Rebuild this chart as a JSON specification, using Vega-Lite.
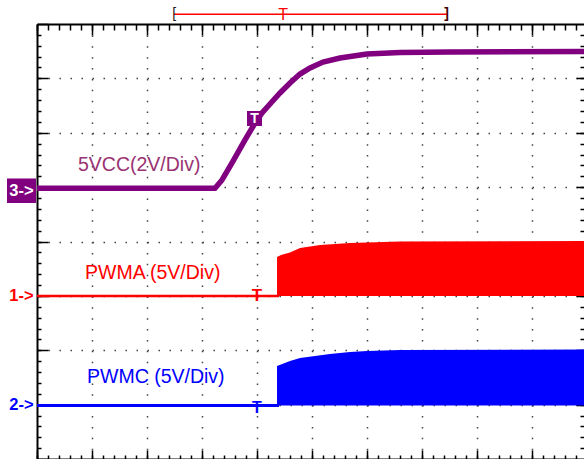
{
  "$schema": "https://vega.github.io/schema/vega-lite/v6.json",
  "width": 547,
  "height": 435,
  "autosize": {"type": "none"},
  "padding": {"left": 37, "top": 24, "right": 0, "bottom": 0},
  "background": "white",
  "config": {
    "view": {"stroke": null},
    "axis": {"title": null, "labels": false, "grid": false, "domainColor": "#000", "tickColor": "#000", "domainWidth": 2, "tickWidth": 1.5},
    "text": {"font": "Liberation Sans"}
  },
  "datasets": {
    "ch3": [
      {"t": 0, "div": 4.98}, {"t": 3.236, "div": 4.98}, {"t": 3.364, "div": 5.131}, {"t": 3.564, "div": 5.48},
      {"t": 3.782, "div": 5.867}, {"t": 3.964, "div": 6.179}, {"t": 4.091, "div": 6.363}, {"t": 4.236, "div": 6.529},
      {"t": 4.418, "div": 6.731}, {"t": 4.6, "div": 6.915}, {"t": 4.782, "div": 7.08}, {"t": 4.964, "div": 7.191},
      {"t": 5.2, "div": 7.301}, {"t": 5.509, "div": 7.375}, {"t": 6.0, "div": 7.448}, {"t": 6.6, "div": 7.476},
      {"t": 7.509, "div": 7.485}, {"t": 10, "div": 7.494}
    ],
    "ch1base": [{"t": 0, "div": 3.0}, {"t": 4.4, "div": 3.0}],
    "ch1env": [
      {"t": 4.364, "div": 3.715}, {"t": 4.436, "div": 3.752}, {"t": 4.6, "div": 3.798}, {"t": 4.782, "div": 3.88},
      {"t": 5.145, "div": 3.936}, {"t": 5.691, "div": 3.972}, {"t": 6.6, "div": 4.0}, {"t": 10, "div": 4.009}
    ],
    "ch2base": [{"t": 0, "div": 0.985}, {"t": 4.4, "div": 0.985}],
    "ch2env": [
      {"t": 4.364, "div": 1.71}, {"t": 4.6, "div": 1.802}, {"t": 4.782, "div": 1.857}, {"t": 5.327, "div": 1.931},
      {"t": 5.691, "div": 1.968}, {"t": 6.0, "div": 1.986}, {"t": 6.6, "div": 2.005}, {"t": 10, "div": 2.014}
    ],
    "one": [{}]
  },
  "resolve": {"axis": {"x": "independent", "y": "independent"}},
  "layer": [
    {
      "data": {"name": "ch2base"},
      "mark": {"type": "line", "color": "#0000FF", "strokeWidth": 3, "clip": true},
      "encoding": {
        "x": {"field": "t", "type": "quantitative", "scale": {"domain": [0, 9.945], "nice": false, "zero": false},
              "axis": {"orient": "bottom", "values": [1, 2, 3, 4, 5, 6, 7, 8, 9], "grid": true, "gridDash": [1.5, 9.375], "gridColor": "#444", "gridWidth": 1.5, "ticks": false, "domain": false}},
        "y": {"field": "div", "type": "quantitative", "scale": {"domain": [0, 8], "nice": false, "zero": false},
              "axis": {"orient": "left", "values": [1, 2, 3, 4, 5, 6, 7], "grid": true, "gridDash": [1.5, 9.5], "gridColor": "#444", "gridWidth": 1.5, "ticks": false, "domain": false}}
      }
    },
    {
      "data": {"name": "ch1base"},
      "mark": {"type": "line", "color": "#FF0000", "strokeWidth": 2.5, "clip": true},
      "encoding": {
        "x": {"field": "t", "type": "quantitative", "scale": {"domain": [0, 9.945], "nice": false, "zero": false},
              "axis": {"orient": "top", "values": [0, 0.2, 0.4, 0.6, 0.8, 1, 1.2, 1.4, 1.6, 1.8, 2, 2.2, 2.4, 2.6, 2.8, 3, 3.2, 3.4, 3.6, 3.8, 4, 4.2, 4.4, 4.6, 4.8, 5, 5.2, 5.4, 5.6, 5.8, 6, 6.2, 6.4, 6.6, 6.8, 7, 7.2, 7.4, 7.6, 7.8, 8, 8.2, 8.4, 8.6, 8.8, 9, 9.2, 9.4, 9.6, 9.8], "tickSize": -6, "domain": false}},
        "y": {"field": "div", "type": "quantitative", "scale": {"domain": [0, 8], "nice": false, "zero": false},
              "axis": {"orient": "right", "values": [0.2, 0.4, 0.6, 0.8, 1, 1.2, 1.4, 1.6, 1.8, 2, 2.2, 2.4, 2.6, 2.8, 3, 3.2, 3.4, 3.6, 3.8, 4, 4.2, 4.4, 4.6, 4.8, 5, 5.2, 5.4, 5.6, 5.8, 6, 6.2, 6.4, 6.6, 6.8, 7, 7.2, 7.4, 7.6, 7.8], "tickSize": -4, "domain": false}}
      }
    },
    {
      "data": {"name": "ch1env"},
      "mark": {"type": "area", "color": "#FF0000", "opacity": 1, "clip": true},
      "encoding": {
        "x": {"field": "t", "type": "quantitative", "scale": {"domain": [0, 9.945], "nice": false, "zero": false},
              "axis": {"orient": "top", "values": [0, 1, 2, 3, 4, 5, 6, 7, 8, 9, 10], "tickSize": -11, "domain": true}},
        "y": {"field": "div", "type": "quantitative", "scale": {"domain": [0, 8], "nice": false, "zero": false},
              "axis": {"orient": "right", "values": [1, 2, 3, 4, 5, 6, 7], "tickSize": -8, "domain": false}},
        "y2": {"datum": 3.0}
      }
    },
    {
      "data": {"name": "ch2env"},
      "mark": {"type": "area", "color": "#0000FF", "opacity": 1, "clip": true},
      "encoding": {
        "x": {"field": "t", "type": "quantitative", "scale": {"domain": [0, 9.945], "nice": false, "zero": false},
              "axis": {"orient": "bottom", "values": [0, 0.2, 0.4, 0.6, 0.8, 1, 1.2, 1.4, 1.6, 1.8, 2, 2.2, 2.4, 2.6, 2.8, 3, 3.2, 3.4, 3.6, 3.8, 4, 4.2, 4.4, 4.6, 4.8, 5, 5.2, 5.4, 5.6, 5.8, 6, 6.2, 6.4, 6.6, 6.8, 7, 7.2, 7.4, 7.6, 7.8, 8, 8.2, 8.4, 8.6, 8.8, 9, 9.2, 9.4, 9.6, 9.8], "tickSize": -4, "domain": false}},
        "y": {"field": "div", "type": "quantitative", "scale": {"domain": [0, 8], "nice": false, "zero": false},
              "axis": {"orient": "left", "values": [0.2, 0.4, 0.6, 0.8, 1, 1.2, 1.4, 1.6, 1.8, 2, 2.2, 2.4, 2.6, 2.8, 3, 3.2, 3.4, 3.6, 3.8, 4, 4.2, 4.4, 4.6, 4.8, 5, 5.2, 5.4, 5.6, 5.8, 6, 6.2, 6.4, 6.6, 6.8, 7, 7.2, 7.4, 7.6, 7.8], "tickSize": -4, "domain": false}},
        "y2": {"datum": 0.985}
      }
    },
    {
      "data": {"name": "ch3"},
      "mark": {"type": "line", "color": "#800080", "strokeWidth": 5.5, "clip": true},
      "encoding": {
        "x": {"field": "t", "type": "quantitative", "scale": {"domain": [0, 9.945], "nice": false, "zero": false},
              "axis": {"orient": "bottom", "values": [0, 1, 2, 3, 4, 5, 6, 7, 8, 9, 10], "tickSize": -9, "domain": true}},
        "y": {"field": "div", "type": "quantitative", "scale": {"domain": [0, 8], "nice": false, "zero": false},
              "axis": {"orient": "left", "values": [0, 1, 2, 3, 4, 5, 6, 7, 8], "tickSize": -11, "domain": true}}
      }
    },
    {
      "data": {"name": "one"},
      "mark": {"type": "rect", "color": "#800080"},
      "encoding": {
        "x": {"datum": -0.545, "axis": null}, "x2": {"datum": -0.018},
        "y": {"datum": 5.159, "axis": null}, "y2": {"datum": 4.708}
      }
    },
    {
      "data": {"name": "one"},
      "mark": {"type": "text", "text": "3->", "color": "white", "fontSize": 16.5, "fontWeight": "bold", "align": "center", "baseline": "middle"},
      "encoding": {"x": {"datum": -0.282, "axis": null}, "y": {"datum": 4.93, "axis": null}}
    },
    {
      "data": {"name": "one"},
      "mark": {"type": "text", "text": "1->", "color": "#FF0000", "fontSize": 16.5, "fontWeight": "bold", "align": "center", "baseline": "middle"},
      "encoding": {"x": {"datum": -0.282, "axis": null}, "y": {"datum": 3.0, "axis": null}}
    },
    {
      "data": {"name": "one"},
      "mark": {"type": "text", "text": "2->", "color": "#0000FF", "fontSize": 16.5, "fontWeight": "bold", "align": "center", "baseline": "middle"},
      "encoding": {"x": {"datum": -0.282, "axis": null}, "y": {"datum": 0.985, "axis": null}}
    },
    {
      "data": {"name": "one"},
      "mark": {"type": "rect", "color": "#800080"},
      "encoding": {
        "x": {"datum": 3.818, "axis": null}, "x2": {"datum": 4.091},
        "y": {"datum": 6.4, "axis": null}, "y2": {"datum": 6.124}
      }
    },
    {
      "data": {"name": "one"},
      "mark": {"type": "text", "text": "T", "color": "white", "fontSize": 14, "fontWeight": "bold", "align": "center", "baseline": "middle"},
      "encoding": {"x": {"datum": 3.955, "axis": null}, "y": {"datum": 6.262, "axis": null}}
    },
    {
      "data": {"name": "one"},
      "mark": {"type": "text", "text": "T", "color": "#FF0000", "fontSize": 17, "fontWeight": "bold", "align": "center", "baseline": "alphabetic"},
      "encoding": {"x": {"datum": 4.0, "axis": null}, "y": {"datum": 2.906, "axis": null}}
    },
    {
      "data": {"name": "one"},
      "mark": {"type": "text", "text": "T", "color": "#0000FF", "fontSize": 16, "fontWeight": "bold", "align": "center", "baseline": "alphabetic"},
      "encoding": {"x": {"datum": 4.0, "axis": null}, "y": {"datum": 0.846, "axis": null}}
    },
    {
      "data": {"name": "one"},
      "mark": {"type": "text", "text": "5VCC(2V/Div)", "color": "#9A3272", "fontSize": 19.5, "align": "left", "baseline": "alphabetic"},
      "encoding": {"x": {"datum": 0.745, "axis": null}, "y": {"datum": 5.297, "axis": null}}
    },
    {
      "data": {"name": "one"},
      "mark": {"type": "text", "text": "PWMA (5V/Div)", "color": "#FF0000", "fontSize": 19.5, "align": "left", "baseline": "alphabetic"},
      "encoding": {"x": {"datum": 0.873, "axis": null}, "y": {"datum": 3.31, "axis": null}}
    },
    {
      "data": {"name": "one"},
      "mark": {"type": "text", "text": "PWMC (5V/Div)", "color": "#0000FF", "fontSize": 19.5, "align": "left", "baseline": "alphabetic"},
      "encoding": {"x": {"datum": 0.909, "axis": null}, "y": {"datum": 1.398, "axis": null}}
    },
    {
      "data": {"name": "one"},
      "mark": {"type": "rule", "color": "#FF0000", "strokeWidth": 1.5},
      "encoding": {"x": {"datum": 2.491, "axis": null}, "x2": {"datum": 7.473}, "y": {"datum": 8.178, "axis": null}}
    },
    {
      "data": {"name": "one"},
      "mark": {"type": "text", "text": "[", "color": "#222", "fontSize": 14, "align": "left", "baseline": "middle"},
      "encoding": {"x": {"datum": 2.46, "axis": null}, "y": {"datum": 8.178, "axis": null}}
    },
    {
      "data": {"name": "one"},
      "mark": {"type": "text", "text": "]", "color": "#400000", "fontSize": 14, "fontWeight": "bold", "align": "right", "baseline": "middle"},
      "encoding": {"x": {"datum": 7.491, "axis": null}, "y": {"datum": 8.178, "axis": null}}
    },
    {
      "data": {"name": "one"},
      "mark": {"type": "text", "text": "T", "color": "#FF0000", "fontSize": 16, "align": "center", "baseline": "alphabetic"},
      "encoding": {"x": {"datum": 4.473, "axis": null}, "y": {"datum": 8.074, "axis": null}}
    }
  ]
}
